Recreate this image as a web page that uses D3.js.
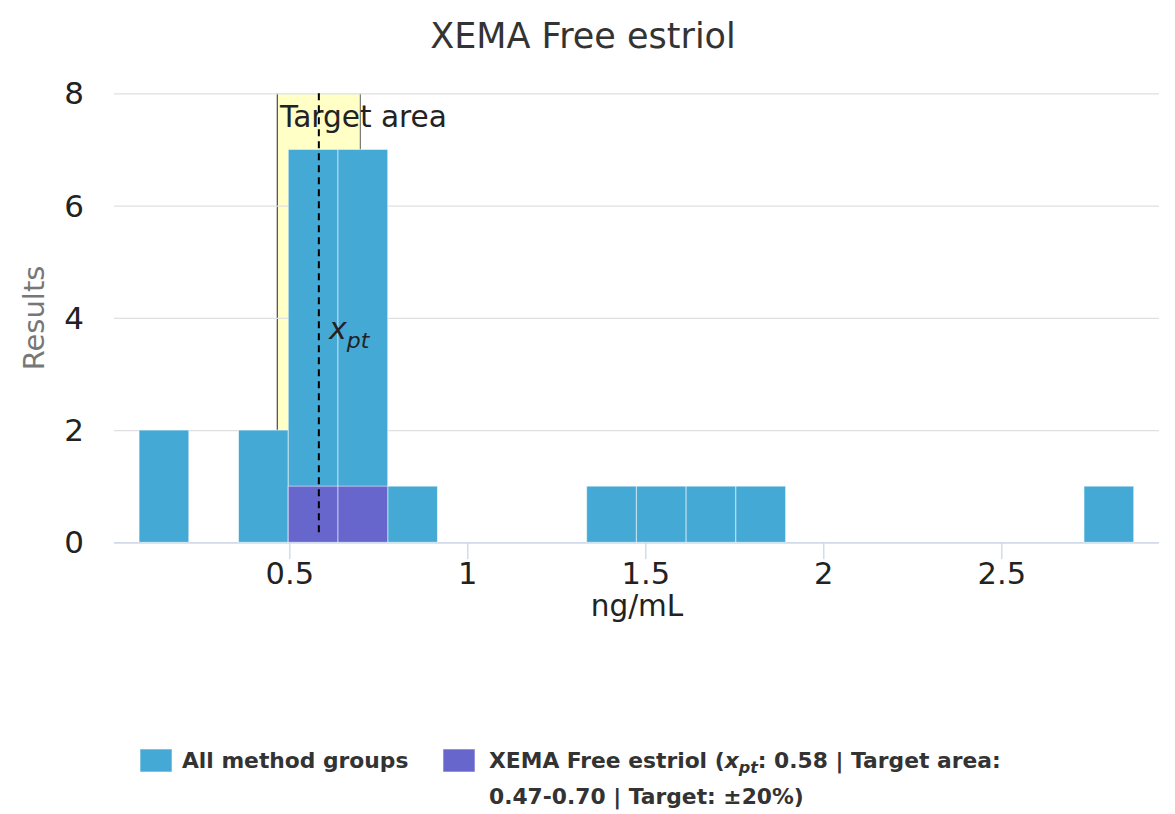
<!DOCTYPE html>
<html><head><meta charset="utf-8">
<script src="https://cdn.jsdelivr.net/npm/d3@7"></script>
<style>
html,body{margin:0;padding:0;background:#fff;}
svg{display:block;font-family:"DejaVu Sans",sans-serif;}
</style></head>
<body><svg id="chart" width="1175" height="814"></svg>
<script>
// ---- data ----
const binStarts = [0.078,0.2177,0.3574,0.4971,0.6368,0.7765,0.9162,1.0559,1.1956,1.3353,1.475,1.6147,1.7544,1.8941,2.0338,2.1735,2.3132,2.4529,2.5926,2.7323];
const binWidth = 0.1397;
const allCounts  = [2,0,2,7,7,1,0,0,0,1,1,1,1,0,0,0,0,0,0,1];
const xemaCounts = [0,0,0,1,1,0,0,0,0,0,0,0,0,0,0,0,0,0,0,0];
const xTicks = [0.5,1,1.5,2,2.5];
const yTicks = [0,2,4,6,8];
const xDomain = [0.0076, 2.943];
const yDomain = [0, 8];
const xpt = 0.583;
const targetArea = [0.4664, 0.6996];
const seriesNames = ["All method groups", "XEMA Free estriol"];
const seriesColors = ["#45a9d6", "#6666cc"];

const svg = d3.select("#chart");
const L = 114, R = 1159, T = 93.3, B = 542.3;
const x = d3.scaleLinear().domain(xDomain).range([L, R]);
const y = d3.scaleLinear().domain(yDomain).range([B, T]);

// title
svg.append("text").attr("x", 583).attr("y", 48).attr("text-anchor","middle")
  .attr("font-size", 35).attr("fill", "#333").text("XEMA Free estriol");

// plot band
svg.append("rect").attr("x", x(targetArea[0])).attr("y", T)
  .attr("width", x(targetArea[1]) - x(targetArea[0])).attr("height", B - T)
  .attr("fill", "#ffffc6");
svg.append("line").attr("x1", x(targetArea[0])).attr("x2", x(targetArea[0]))
  .attr("y1", T).attr("y2", B).attr("stroke", "#555").attr("stroke-width", 1.3);
svg.append("line").attr("x1", x(targetArea[1])).attr("x2", x(targetArea[1]))
  .attr("y1", T).attr("y2", B).attr("stroke", "#777").attr("stroke-width", 1.2);

// y grid + labels
const yAxis = d3.axisLeft(y).tickValues(yTicks).tickSize(-(R - L)).tickPadding(30).tickFormat(d3.format("d"));
const gy = svg.append("g").attr("transform", `translate(${L},0)`).call(yAxis);
gy.select(".domain").remove();
gy.selectAll(".tick line").attr("stroke", "#e0e0e0").attr("stroke-width", 1.3);
gy.selectAll(".tick text").attr("font-size", 31).attr("fill", "#222")
  .attr("font-family", "DejaVu Sans").attr("dy", "0.34em");

// x axis
const xAxis = d3.axisBottom(x).tickValues(xTicks).tickSize(17).tickPadding(4).tickFormat(d => String(d));
const gx = svg.append("g").attr("transform", `translate(0,${B})`).call(xAxis);
gx.select(".domain").attr("stroke", "#ccd6eb").attr("stroke-width", 1.3)
  .attr("d", `M${L},0.5H${R}`);
gx.selectAll(".tick line").attr("stroke", "#ccd6eb").attr("stroke-width", 1.3);
gx.selectAll(".tick text").attr("font-size", 30.5).attr("fill", "#222")
  .attr("font-family", "DejaVu Sans").attr("dy", "0").attr("y", 42);

// axis titles
svg.append("text").attr("x", 637).attr("y", 616).attr("text-anchor","middle")
  .attr("font-size", 29.5).attr("fill", "#222").text("ng/mL");
svg.append("text").attr("transform", "translate(44,318) rotate(-90)").attr("text-anchor","middle")
  .attr("font-size", 29).attr("fill", "#777").text("Results");

// bars
const bars = [allCounts, xemaCounts];
bars.forEach((counts, si) => {
  svg.append("g").selectAll("rect")
    .data(binStarts.map((s, i) => ({s, c: counts[i]})).filter(d => d.c > 0))
    .join("rect")
    .attr("x", d => x(d.s)).attr("width", d => x(d.s + binWidth) - x(d.s))
    .attr("y", d => y(d.c)).attr("height", d => y(0) - y(d.c))
    .attr("fill", seriesColors[si])
    .attr("stroke", "rgba(255,255,255,0.55)").attr("stroke-width", 1);
});

// target label
svg.append("text").attr("x", 280).attr("y", 127).attr("font-size", 29.6)
  .attr("fill", "#222").text("Target area");

// xpt dashed line
svg.append("line").attr("x1", x(xpt)).attr("x2", x(xpt)).attr("y1", T).attr("y2", B - 5)
  .attr("stroke", "#000").attr("stroke-width", 2).attr("stroke-dasharray", "7,5");
const xl = svg.append("text").attr("x", 329).attr("y", 339).attr("font-size", 30).attr("fill", "#222");
xl.append("tspan").attr("font-style", "italic").text("x");
xl.append("tspan").attr("font-style", "italic").attr("font-size", 22).attr("dy", 9).text("pt");

// legend
const lg = svg.append("g").attr("font-weight", "bold").attr("font-size", 21.8).attr("fill", "#333");
lg.append("rect").attr("x", 140).attr("y", 749).attr("width", 32).attr("height", 23)
  .attr("fill", seriesColors[0]).attr("stroke", "rgba(255,255,255,0.6)");
lg.append("text").attr("x", 182).attr("y", 768).text(seriesNames[0]);
lg.append("rect").attr("x", 443).attr("y", 749).attr("width", 32).attr("height", 23)
  .attr("fill", seriesColors[1]).attr("stroke", "rgba(255,255,255,0.6)");
const t2 = lg.append("text").attr("x", 489).attr("y", 768);
t2.append("tspan").text(seriesNames[1] + " (");
t2.append("tspan").attr("font-style", "italic").text("x");
t2.append("tspan").attr("font-style", "italic").attr("font-size", 16).attr("dy", 5).text("pt");
t2.append("tspan").attr("dy", -5).text(": 0.58 | Target area:");
lg.append("text").attr("x", 489).attr("y", 804).text("0.47-0.70 | Target: \u00b120%)");
</script>
</body></html>
